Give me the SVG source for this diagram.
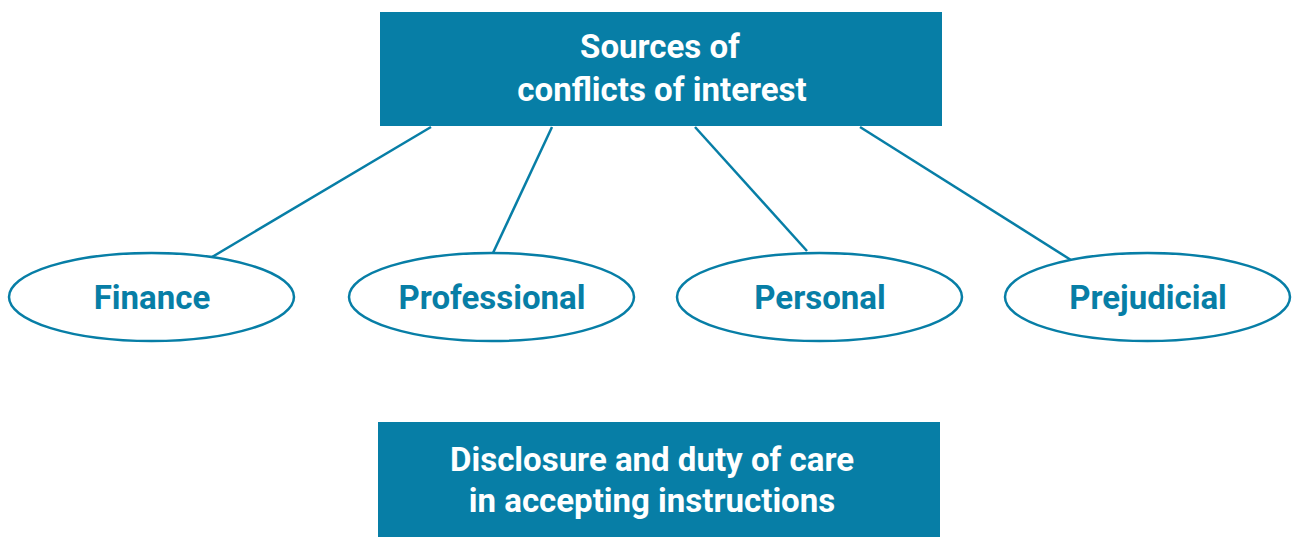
<svg xmlns="http://www.w3.org/2000/svg" width="1293" height="537" viewBox="0 0 1293 537">
<style>
.box{fill:#077ea6}
.ell{fill:#fff;stroke:#077ea6;stroke-width:2.5}
.wt{font-family:Roboto,"Liberation Sans",sans-serif;font-weight:bold;font-size:33px;fill:#fff;text-anchor:middle}
.bt{font-family:Roboto,"Liberation Sans",sans-serif;font-weight:bold;font-size:33px;fill:#077ea6;text-anchor:middle}
.con{stroke:#077ea6;stroke-width:2.5;fill:none}
</style>
<rect width="1293" height="537" fill="#fff"/>
<g id="connectors">
<line class="con" x1="431" y1="127" x2="212" y2="257"/>
<line class="con" x1="552" y1="127" x2="493" y2="253"/>
<line class="con" x1="695" y1="127" x2="807" y2="251"/>
<line class="con" x1="860" y1="127" x2="1071" y2="260"/>
</g>
<g id="sources">
<rect class="box" x="380" y="12" width="562" height="114"/>
<text class="wt" x="660" y="58">Sources of</text>
<text class="wt" x="662" y="101">conflicts of interest</text>
</g>
<g id="finance">
<ellipse class="ell" cx="151.5" cy="297" rx="142.5" ry="44"/>
<text class="bt" x="152" y="309">Finance</text>
</g>
<g id="professional">
<ellipse class="ell" cx="491.5" cy="297" rx="142.5" ry="44"/>
<text class="bt" x="492" y="309">Professional</text>
</g>
<g id="personal">
<ellipse class="ell" cx="819.5" cy="297" rx="142.5" ry="44"/>
<text class="bt" x="820" y="309">Personal</text>
</g>
<g id="prejudicial">
<ellipse class="ell" cx="1147.5" cy="297" rx="142.5" ry="44"/>
<text class="bt" x="1148" y="309">Prejudicial</text>
</g>
<g id="disclosure">
<rect class="box" x="378" y="422" width="562" height="115"/>
<text class="wt" x="652" y="471">Disclosure and duty of care</text>
<text class="wt" x="652" y="512">in accepting instructions</text>
</g>
</svg>
